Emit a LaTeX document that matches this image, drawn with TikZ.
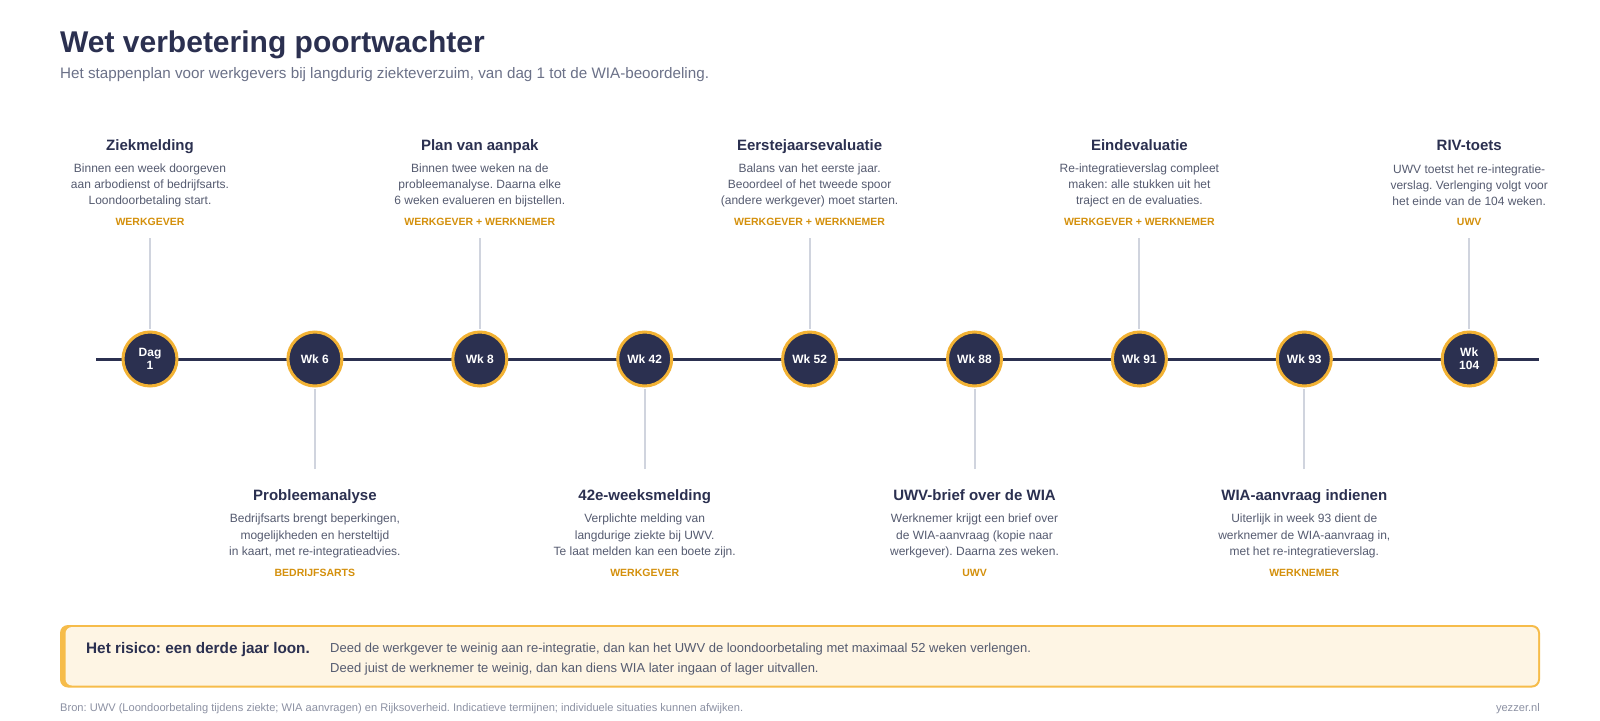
\documentclass[tikz,border=0pt]{standalone}
\usepackage{fontspec}
\setmainfont{Liberation Sans}
\frenchspacing
\definecolor{navy}{HTML}{2B3050}
\definecolor{subgray}{HTML}{6B7188}
\definecolor{descgray}{HTML}{555B70}
\definecolor{rolecol}{HTML}{D4900C}
\definecolor{ring}{HTML}{F2B234}
\definecolor{conncol}{HTML}{D0D4DE}
\definecolor{boxfill}{HTML}{FEF5E4}
\definecolor{boxline}{HTML}{F6BC4A}
\definecolor{footcol}{HTML}{8C91A3}
\newcommand{\evtup}[6]{%
  \node[dot] (d#1) at (#2,359) {#3};
  \node[ttl] (t#1) at (#2,150.4) {#4};
  \node[dsc] (s#1) at (#2,185.2) {#5};
  \node[role] (r#1) at (#2,225.3) {#6};
  \coordinate (c#1) at (#2,238);
  \draw[conn] (c#1) -- (d#1.north);
}
\newcommand{\evtdown}[6]{%
  \node[dot] (d#1) at (#2,359) {#3};
  \node[ttl] (t#1) at (#2,500.3) {#4};
  \node[dsc] (s#1) at (#2,536) {#5};
  \node[role] (r#1) at (#2,576.3) {#6};
  \coordinate (c#1) at (#2,469);
  \draw[conn] (c#1) -- (d#1.south);
}
\begin{document}
\begin{tikzpicture}[x=1pt,y=-1pt,
  dot/.style={circle, fill=navy, draw=ring, line width=3pt, minimum size=54pt, inner sep=0pt,
    text=white, font=\fontsize{12}{13}\selectfont\bfseries, align=center},
  ttl/.style={anchor=base, inner sep=0pt, text=navy, font=\fontsize{15}{18}\selectfont\bfseries},
  dsc/.style={anchor=center, inner sep=0pt, text=descgray, align=center, font=\fontsize{12}{16.3}\selectfont},
  role/.style={anchor=base, inner sep=0pt, text=rolecol, font=\fontsize{10.5}{12}\selectfont\bfseries},
  conn/.style={draw=conncol, line width=2pt, shorten >=1.5pt},
  axis/.style={draw=navy, line width=3pt},
]
\useasboundingbox[fill=white] (0,0) rectangle (1600,720);
% header
\node[anchor=base west, inner sep=0pt, text=navy, font=\fontsize{30}{34}\selectfont\bfseries] (title) at (60,52.5) {Wet verbetering poortwachter};
\node[anchor=base west, inner sep=0pt, text=subgray, font=\fontsize{15.2}{18}\selectfont] (subtitle) at (60,78) {Het stappenplan voor werkgevers bij langdurig ziekteverzuim, van dag 1 tot de WIA-beoordeling.};
% axis
\coordinate (tl) at (96,359);
\coordinate (tr) at (1539,359);
\draw[axis] (tl) -- (tr);
% events
\evtup{0}{150}{Dag\\1}{Ziekmelding}{Binnen een week doorgeven\\aan arbodienst of bedrijfsarts.\\Loondoorbetaling start.}{WERKGEVER}
\evtdown{1}{314.9}{Wk 6}{Probleemanalyse}{Bedrijfsarts brengt beperkingen,\\mogelijkheden en hersteltijd\\in kaart, met re-integratieadvies.}{BEDRIJFSARTS}
\evtup{2}{479.8}{Wk 8}{Plan van aanpak}{Binnen twee weken na de\\probleemanalyse. Daarna elke\\6 weken evalueren en bijstellen.}{WERKGEVER + WERKNEMER}
\evtdown{3}{644.7}{Wk 42}{42e-weeksmelding}{Verplichte melding van\\langdurige ziekte bij UWV.\\Te laat melden kan een boete zijn.}{WERKGEVER}
\evtup{4}{809.6}{Wk 52}{Eerstejaarsevaluatie}{Balans van het eerste jaar.\\Beoordeel of het tweede spoor\\(andere werkgever) moet starten.}{WERKGEVER + WERKNEMER}
\evtdown{5}{974.5}{Wk 88}{UWV-brief over de WIA}{Werknemer krijgt een brief over\\de WIA-aanvraag (kopie naar\\werkgever). Daarna zes weken.}{UWV}
\evtup{6}{1139.4}{Wk 91}{Eindevaluatie}{Re-integratieverslag compleet\\maken: alle stukken uit het\\traject en de evaluaties.}{WERKGEVER + WERKNEMER}
\evtdown{7}{1304.3}{Wk 93}{WIA-aanvraag indienen}{Uiterlijk in week 93 dient de\\werknemer de WIA-aanvraag in,\\met het re-integratieverslag.}{WERKNEMER}
\evtup{8}{1469.2}{Wk\\104}{RIV-toets}{UWV toetst het re-integratie-\\verslag. Verlenging volgt voor\\het einde van de 104 weken.}{UWV}
% risk box
\fill[boxline, rounded corners=8pt] (60,625) rectangle (1540,687.5);
\fill[boxfill, rounded corners=6.5pt] (65.5,627) rectangle (1538,685.5);
\node[anchor=base west, inner sep=0pt, text=navy, font=\fontsize{15.3}{18}\selectfont\bfseries] (riskhead) at (86,653.4) {Het risico: een derde jaar loon.};
\node[anchor=base west, inner sep=0pt, text=descgray, font=\fontsize{13}{16}\selectfont] (risk1) at (330,652.6) {Deed de werkgever te weinig aan re-integratie, dan kan het UWV de loondoorbetaling met maximaal 52 weken verlengen.};
\node[anchor=base west, inner sep=0pt, text=descgray, font=\fontsize{13}{16}\selectfont] (risk2) at (330,672.6) {Deed juist de werknemer te weinig, dan kan diens WIA later ingaan of lager uitvallen.};
% footer
\node[anchor=base west, inner sep=0pt, text=footcol, font=\fontsize{11.1}{13}\selectfont] (source) at (60,711) {Bron: UWV (Loondoorbetaling tijdens ziekte; WIA aanvragen) en Rijksoverheid. Indicatieve termijnen; individuele situaties kunnen afwijken.};
\node[anchor=base east, inner sep=0pt, text=footcol, font=\fontsize{11.1}{13}\selectfont] (brand) at (1540,711) {yezzer.nl};
\end{tikzpicture}
\end{document}
